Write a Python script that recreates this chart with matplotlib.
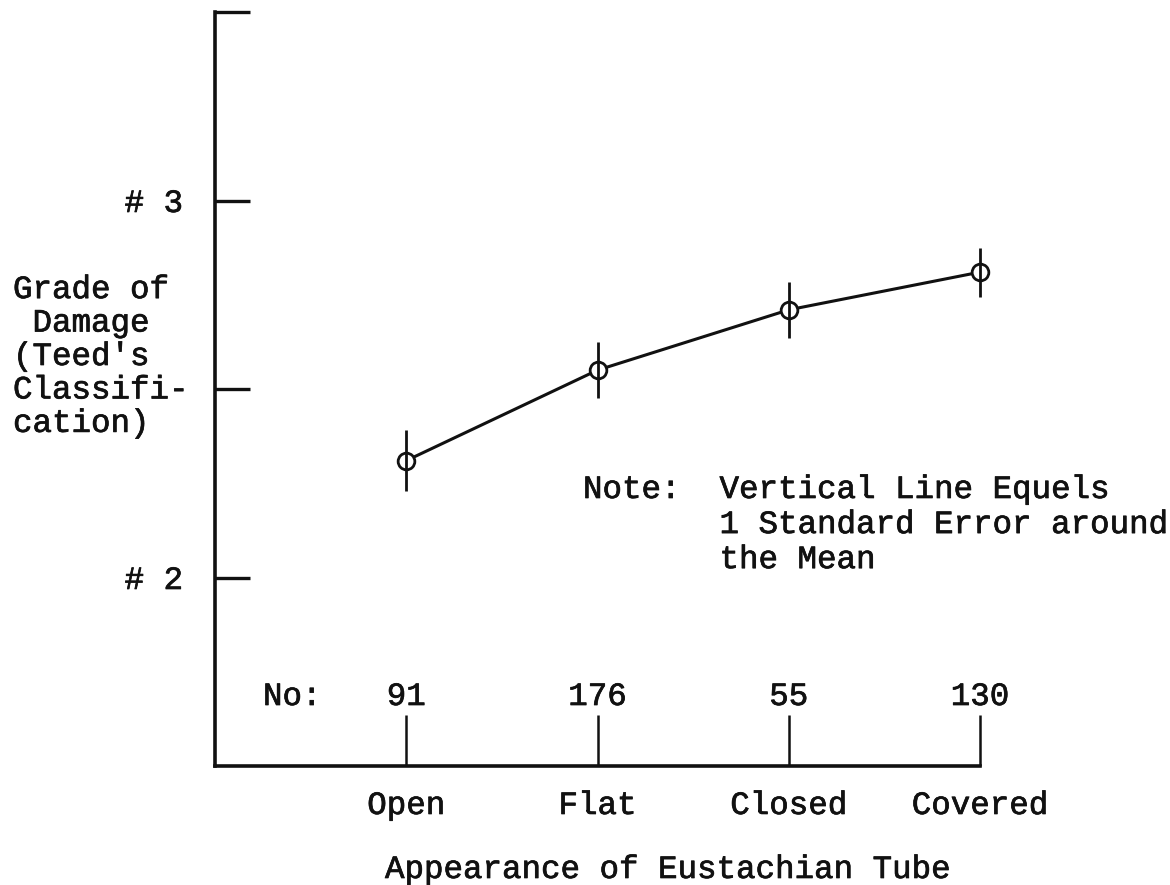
import matplotlib
matplotlib.use("Agg")
import matplotlib.pyplot as plt
import matplotlib.patheffects as pe

# Data: grade of middle-ear damage by eustachian tube appearance
categories = ["Open", "Flat", "Closed", "Covered"]
counts = [91, 176, 55, 130]
mean_grade = [2.31, 2.55, 2.71, 2.81]
std_err = [0.08, 0.075, 0.075, 0.065]

ytick_values = [2.0, 2.5, 3.0, 3.5]
ytick_labels = ["# 2", "", "# 3", ""]

FONT = "Liberation Mono"
FS = 23.4
INK = "#111111"
ink_fx = [pe.withStroke(linewidth=0.5, foreground=INK)]

W, H = 1170, 885
fig = plt.figure(figsize=(W / 100, H / 100), dpi=100)
fig.patch.set_facecolor("white")

# axes box in pixel terms: left 215, right 980, top 12, bottom 766
ax = fig.add_axes([215 / W, 1 - 766 / H, (980 - 215) / W, (766 - 12) / H])
ax.set_facecolor("white")

xpos = list(range(1, len(categories) + 1))
ax.set_xlim(0, len(categories))
ax.set_ylim(1.5, 3.5)

# connecting line, open circles, then the standard-error bars through them
ax.plot(xpos, mean_grade, "-", color=INK, lw=2.2, zorder=2, clip_on=False)
ax.plot(xpos, mean_grade, "o", ms=12, mfc="white", mec=INK, mew=2.0,
        zorder=3, clip_on=False)
ax.errorbar(xpos, mean_grade, yerr=std_err, fmt="none", ecolor=INK,
            elinewidth=2.0, capsize=0, zorder=4, clip_on=False)

for side in ("top", "right"):
    ax.spines[side].set_visible(False)
for side in ("left", "bottom"):
    ax.spines[side].set_linewidth(2.6)
    ax.spines[side].set_color(INK)

ax.set_yticks(ytick_values)
ax.set_yticklabels(ytick_labels, fontfamily=FONT, fontsize=FS, color=INK)
ax.tick_params(axis="y", direction="in", length=25, width=2.4, pad=23,
               color=INK)

ax.set_xticks(xpos)
ax.set_xticklabels(categories, fontfamily=FONT, fontsize=FS, color=INK)
ax.tick_params(axis="x", direction="in", length=37, width=1.8, pad=18,
               color=INK)

for lab in ax.get_xticklabels() + ax.get_yticklabels():
    lab.set_path_effects(ink_fx)

# sample counts above each category tick
xt = ax.get_xaxis_transform()
ax.text((263 - 215) / ((980 - 215) / len(categories)), 0.0915, "No:",
        transform=xt, ha="left", va="center", fontfamily=FONT, fontsize=FS,
        color=INK, path_effects=ink_fx)
for xi, n in zip(xpos, counts):
    ax.text(xi, 0.0915, str(n), transform=xt, ha="center", va="center",
            fontfamily=FONT, fontsize=FS, color=INK, path_effects=ink_fx)

# y-axis title typed in a block to the left
fig.text(13 / W, 1 - 357 / H,
         "Grade of\n Damage\n(Teed's\nClassifi-\ncation)",
         ha="left", va="center", multialignment="left", linespacing=1.15,
         fontfamily=FONT, fontsize=FS, color=INK, path_effects=ink_fx)

# x-axis title
fig.text(385 / W, 1 - 870 / H, "Appearance of Eustachian Tube",
         ha="left", va="center", fontfamily=FONT, fontsize=FS, color=INK,
         path_effects=ink_fx)

# explanatory note
fig.text(583 / W, 1 - 475 / H,
         "Note:  Vertical Line Equels\n"
         "       1 Standard Error around\n"
         "       the Mean",
         ha="left", va="top", multialignment="left", linespacing=1.22,
         fontfamily=FONT, fontsize=FS, color=INK, path_effects=ink_fx)

fig.savefig("out.png", dpi=100, facecolor="white")
